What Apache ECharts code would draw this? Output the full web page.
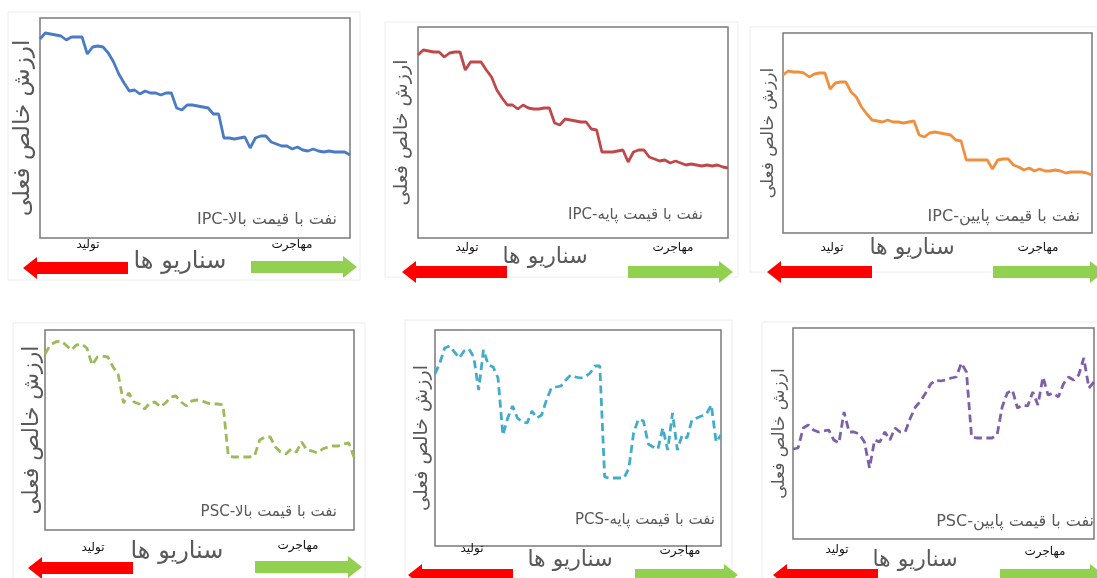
<!DOCTYPE html>
<html>
<head>
<meta charset="utf-8">
<script src="https://cdn.jsdelivr.net/npm/echarts@6/dist/echarts.min.js"></script>
<style>
html,body{margin:0;padding:0;background:#fff;}
#c{width:1097px;height:578px;}
</style>
</head>
<body>
<div id="c"></div>
<script>
// ---- data (units = relative NPV within each panel) ----
const scenarios = Array.from({length: 60}, (_, i) => String(i + 1));

const ipcHigh = [199,205,204,203,202,198,201,201,201,184,191,192,191,185,176,164,155,147,148,144,147,145,145,143,145,145,130,128,133,133,132,131,130,124,124,100,100,99,100,101,90,100,102,102,96,94,92,92,89,91,88,87,89,87,86,87,86,86,86,83];
const ipcBase = [183,188,187,186,186,181,185,186,186,168,176,176,176,168,161,148,140,133,133,129,133,130,129,129,130,130,115,113,119,118,117,116,116,109,108,86,86,86,87,88,76,86,88,88,81,79,77,78,75,77,75,73,74,73,72,73,72,73,71,70];
const ipcLow  = [158,162,161,161,160,156,159,160,160,144,150,151,151,141,136,126,119,113,112,111,113,111,111,110,111,112,98,96,100,101,100,99,98,93,92,73,73,73,73,73,64,73,74,74,68,66,63,65,62,64,62,62,63,62,60,61,61,61,60,58];
const pscHigh = [176,185,188,189,185,180,185,186,182,165,173,174,173,163,155,127,137,128,126,121,127,128,123,127,133,134,128,124,129,130,129,127,126,126,125,74,73,73,73,73,74,90,93,93,83,78,76,81,78,88,80,79,77,81,83,84,84,86,87,73];
const pcsBase = [172,183,198,200,194,188,195,197,189,156,196,181,179,168,111,128,140,128,124,123,135,128,131,146,158,159,160,166,171,169,168,169,173,180,180,69,68,68,68,68,78,114,127,125,102,99,97,118,96,133,96,111,108,126,128,130,132,141,104,111];
const pscLow  = [90,91,111,114,109,107,108,109,99,96,127,107,107,105,97,71,99,97,107,99,111,107,107,121,132,138,146,155,159,158,159,161,162,176,167,102,101,101,101,101,104,132,146,149,131,134,133,147,134,162,144,146,142,155,162,159,164,181,151,157];

const yTitle = 'ارزش خالص فعلی';
const xTitle = 'سناریو ها';
const leftLabel = 'تولید';
const rightLabel = 'مهاجرت';
const panelTitles = [
  'نفت با قیمت بالا-IPC',
  'نفت با قیمت پایه-IPC',
  'نفت با قیمت پایین-IPC',
  'نفت با قیمت بالا-PSC',
  'نفت با قیمت پایه-PCS',
  'نفت با قیمت پایین-PSC'
];
const seriesData = [ipcHigh, ipcBase, ipcLow, pscHigh, pcsBase, pscLow];

// ---- layout / style ----
const colors = ['#4a7bc4', '#c0484a', '#f0903e', '#9bbb59', '#43acc8', '#7e5fa8'];
const dashed = [false, false, false, true, true, true];
const layout = [
  {l: 40,  t: 18,  w: 310, h: 220, yMax: 220, gap: 5, yFs: 23, frame: [8, 12, 352, 268],
   tx: 337, ty: 220, tfs: 16, tl: [88, 245], tr: [292, 245], xs: [180, 262], xfs: 24,
   red: [23, 128, 268], green: [251, 357, 267]},
  {l: 418, t: 27,  w: 310, h: 211, yMax: 211, gap: 6, yFs: 19, frame: [385, 22, 353, 255],
   tx: 703, ty: 215, tfs: 15, tl: [467, 248], tr: [673, 248], xs: [545, 257], xfs: 22,
   red: [402, 507, 272], green: [628, 733, 272]},
  {l: 783, t: 33,  w: 309, h: 200, yMax: 200, gap: 6, yFs: 17, frame: [750, 27, 360, 245],
   tx: 1080, ty: 217, tfs: 16, tl: [832, 248], tr: [1038, 248], xs: [912, 248], xfs: 22,
   red: [767, 872, 272], green: [993, 1104, 272]},
  {l: 45,  t: 330, w: 309, h: 200, yMax: 200, gap: 2, yFs: 22, frame: [13, 323, 352, 270],
   tx: 337, ty: 512, tfs: 15, tl: [93, 548], tr: [298, 546], xs: [177, 552], xfs: 24,
   red: [28, 133, 568], green: [255, 362, 567]},
  {l: 435, t: 330, w: 286, h: 216, yMax: 216, gap: 3, yFs: 19, frame: [405, 320, 327, 270],
   tx: 715, ty: 520, tfs: 15, tl: [472, 549], tr: [680, 551], xs: [570, 560], xfs: 22,
   red: [408, 513, 575], green: [635, 738, 575]},
  {l: 793, t: 328, w: 301, h: 211, yMax: 211, gap: 5, yFs: 17, frame: [762, 322, 360, 270],
   tx: 1094, ty: 522, tfs: 16, tl: [837, 550], tr: [1045, 552], xs: [915, 560], xfs: 22,
   red: [773, 878, 575], green: [1000, 1104, 575]}
];

const FONT = "'DejaVu Sans', 'Noto Sans', sans-serif";

function arrow(x1, x2, yc, pointLeft, color) {
  const hl = 14, hh = 11, bh = 6;
  let pts;
  if (pointLeft) {
    pts = [[x1, yc], [x1 + hl, yc - hh], [x1 + hl, yc - bh], [x2, yc - bh], [x2, yc + bh], [x1 + hl, yc + bh], [x1 + hl, yc + hh]];
  } else {
    pts = [[x2, yc], [x2 - hl, yc - hh], [x2 - hl, yc - bh], [x1, yc - bh], [x1, yc + bh], [x2 - hl, yc + bh], [x2 - hl, yc + hh]];
  }
  return {type: 'polygon', shape: {points: pts}, style: {fill: color}, z: 10};
}
function text(x, y, str, size, color, align) {
  return {type: 'text', x: x, y: y, z: 10,
    style: {text: str, fill: color, font: size + 'px ' + FONT, textAlign: align || 'center', textVerticalAlign: 'middle'}};
}

const grids = [], xAxes = [], yAxes = [], series = [], graphics = [];
layout.forEach((p, i) => {
  grids.push({left: p.l, top: p.t, width: p.w, height: p.h, show: true,
    borderColor: '#7a7a7a', borderWidth: 1.5, backgroundColor: 'transparent', containLabel: false});
  xAxes.push({type: 'category', gridIndex: i, data: scenarios, boundaryGap: false, show: false});
  yAxes.push({type: 'value', gridIndex: i, min: 0, max: p.yMax,
    axisLine: {show: false}, axisTick: {show: false}, axisLabel: {show: false}, splitLine: {show: false},
    name: yTitle, nameLocation: 'middle', nameRotate: 90, nameGap: p.gap,
    nameTextStyle: {color: '#595959', fontSize: p.yFs, fontFamily: FONT}});
  series.push({type: 'line', xAxisIndex: i, yAxisIndex: i, data: seriesData[i],
    showSymbol: false, smooth: false, animation: false,
    lineStyle: {color: colors[i], width: 2.8, type: dashed[i] ? [8, 4.5] : 'solid'}});

  graphics.push({type: 'rect', shape: {x: p.frame[0], y: p.frame[1], width: p.frame[2], height: p.frame[3]},
    style: {fill: 'none', stroke: '#ececec', lineWidth: 1}, z: 0});
  graphics.push(text(p.tx, p.ty, '\u202B' + panelTitles[i] + '\u202C', p.tfs, '#595959', 'right'));
  graphics.push(text(p.tl[0], p.tl[1], leftLabel, 12, '#111', 'center'));
  graphics.push(text(p.tr[0], p.tr[1], rightLabel, 12, '#111', 'center'));
  graphics.push(text(p.xs[0], p.xs[1], xTitle, p.xfs, '#595959', 'center'));
  graphics.push(arrow(p.red[0], p.red[1], p.red[2], true, '#ff0000'));
  graphics.push(arrow(p.green[0], p.green[1], p.green[2], false, '#92d050'));
});

const chart = echarts.init(document.getElementById('c'), null, {renderer: 'canvas'});
chart.setOption({
  animation: false,
  backgroundColor: '#ffffff',
  grid: grids,
  xAxis: xAxes,
  yAxis: yAxes,
  series: series,
  graphic: {elements: graphics}
});
</script>
</body>
</html>
